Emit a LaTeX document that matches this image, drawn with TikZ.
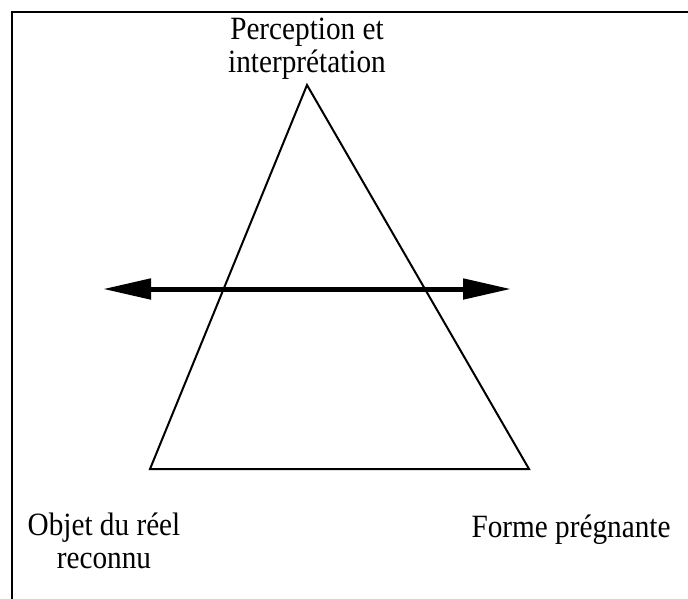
\documentclass[tikz,border=0pt]{standalone}
\usepackage{fontspec}
\setmainfont{Liberation Serif}[FakeStretch=0.9]
\usetikzlibrary{arrows.meta}
\begin{document}
\begin{tikzpicture}[x=1pt,y=-1pt,
  frameline/.style={line width=2.5pt},
  triline/.style={line width=2pt, line join=miter},
  dblarrow/.style={line width=5pt, {Triangle[length=48pt,width=20pt]}-{Triangle[length=48pt,width=20pt]}},
  lbl/.style={inner sep=0pt, align=center, anchor=base, font=\fontsize{32.5}{33}\selectfont}
]
\useasboundingbox (0,0) rectangle (688,598);
\draw[frameline] (12,610) -- (12,12) -- (700,12);
\coordinate (apex) at (307,85);
\coordinate (bl) at (150,469);
\coordinate (br) at (529,469);
\draw[triline] (apex) -- (bl) -- (br) -- cycle;
\coordinate (al) at (103,289);
\coordinate (ar) at (511,289);
\draw[dblarrow] (al) -- (ar);
\node[lbl] (top) at (307,72) {Perception et\\interprétation};
\node[lbl] (obj) at (104,568) {Objet du réel\\reconnu};
\node[lbl] (forme) at (571,537) {Forme prégnante};
\end{tikzpicture}
\end{document}
